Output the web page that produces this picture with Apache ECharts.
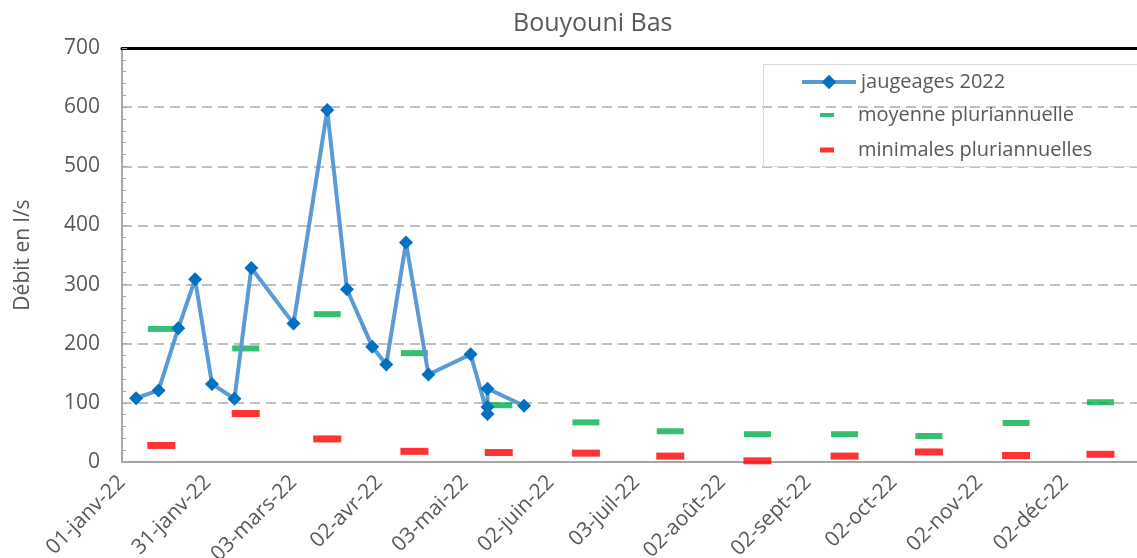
<!DOCTYPE html>
<html>
<head>
<meta charset="UTF-8">
<title>Bouyouni Bas</title>
<style>
	html, body { margin: 0; padding: 0; background: #fff; }
	#chart { width: 1137px; height: 558px; }
</style>
</head>
<body>
<div id="chart"></div>
<script src="https://cdn.jsdelivr.net/npm/echarts@6/dist/echarts.min.js"></script>
<script>
// jours comptés depuis le 01-janv-22
var tickLabels = ['01-janv-22', '31-janv-22', '03-mars-22', '02-avr-22', '03-mai-22', '02-juin-22',
	'03-juil-22', '02-août-22', '02-sept-22', '02-oct-22', '02-nov-22', '02-déc-22'];

// jaugeages 2022
var jaugeJours = [5, 13, 20, 26, 32, 40, 46, 61, 73, 80, 89, 94, 101, 109, 124, 130, 130, 130, 143];
var jaugeDebits = [108, 121, 226, 309, 132, 107, 328, 234, 595, 292, 195, 165, 371, 148, 182, 81, 93, 124, 95];

// valeurs pluriannuelles (milieu de mois)
var moisJours = [14, 44, 73, 104, 134, 165, 195, 226, 257, 287, 318, 348];
var moyenne = [225, 192, 250, 184, 96, 67, 52, 47, 47, 44, 66, 101];
var minimales = [28, 82, 39, 18, 16, 15, 10, 2, 10, 17, 11, 13];

function paires(xs, ys) {
	var out = [];
	for (var i = 0; i < xs.length; i++) {
		out.push([xs[i], ys[i]]);
	}
	return out;
}

var gris = '#595959';
var police = '"Open Sans", sans-serif';

var chart = echarts.init(document.getElementById('chart'));
var option = {
	animation: false,
	title: {
		text: 'Bouyouni Bas',
		left: 508,
		top: 6,
		textStyle: { fontFamily: police, fontSize: 25, fontWeight: 'normal', color: gris }
	},
	grid: { left: 122, right: 0, top: 48, bottom: 96, containLabel: false, outerBoundsMode: 'none' },
	legend: [
		{
			data: [{
				name: 'jaugeages 2022',
				lineStyle: { color: '#5b9bd5', width: 4 }
			}],
			left: 800, top: 70, padding: 0,
			itemWidth: 54, itemHeight: 18,
			textStyle: { fontFamily: police, fontSize: 20, color: gris, lineHeight: 24 }
		},
		{
			data: [{ name: 'moyenne pluriannuelle', icon: 'rect' }],
			left: 820, top: 103, padding: 0,
			itemWidth: 14, itemHeight: 4,
			textStyle: { fontFamily: police, fontSize: 20, color: gris, lineHeight: 24, padding: [0, 0, 0, 19] }
		},
		{
			data: [{ name: 'minimales pluriannuelles', icon: 'rect' }],
			left: 820, top: 138, padding: 0,
			itemWidth: 14, itemHeight: 5,
			textStyle: { fontFamily: police, fontSize: 20, color: gris, lineHeight: 24, padding: [0, 0, 0, 19] }
		}
	],
	graphic: [
		{
			type: 'rect',
			shape: { x: 763.5, y: 64.5, width: 390, height: 102 },
			style: { fill: null, stroke: '#d9d9d9', lineWidth: 1 },
			z: 5
		}
	],
	xAxis: [
		{
			type: 'value',
			min: 0,
			max: 361,
			interval: 30.5,
			axisLine: { show: true, lineStyle: { color: '#a6a6a6', width: 2 } },
			axisTick: { show: false },
			splitLine: { show: false },
			axisLabel: {
				rotate: 45,
				margin: 17,
				showMaxLabel: false,
				fontFamily: police,
				fontSize: 21,
				color: gris,
				formatter: function (v) {
					var i = Math.round(v / 30.5);
					return tickLabels[i] || '';
				}
			}
		},
		{
			type: 'value',
			position: 'top',
			min: 0,
			max: 361,
			axisLine: { show: true, lineStyle: { color: '#000', width: 3 } },
			axisTick: { show: false },
			axisLabel: { show: false },
			splitLine: { show: false }
		}
	],
	yAxis: {
		type: 'value',
		min: 0,
		max: 700,
		interval: 100,
		name: 'Débit en l/s',
		nameLocation: 'middle',
		nameGap: 88,
		nameTextStyle: { fontFamily: police, fontSize: 21, color: gris },
		axisLine: { show: true, lineStyle: { color: '#a6a6a6', width: 2 } },
		axisTick: { show: true, inside: true, length: 5, lineStyle: { color: '#a6a6a6' } },
		minorTick: { show: true, splitNumber: 5, length: 4, lineStyle: { color: '#a6a6a6' } },
		axisLabel: { margin: 22, fontFamily: police, fontSize: 21, color: gris },
		splitLine: { show: true, lineStyle: { color: '#bfbfbf', width: 2, type: [10, 6] } }
	},
	series: [
		{
			name: 'jaugeages 2022',
			type: 'line',
			data: paires(jaugeJours, jaugeDebits),
			symbol: 'diamond',
			symbolSize: 14,
			itemStyle: { color: '#0070c0' },
			lineStyle: { color: '#5b9bd5', width: 4 }
		},
		{
			name: 'moyenne pluriannuelle',
			type: 'scatter',
			data: paires(moisJours, moyenne),
			symbol: 'rect',
			symbolSize: [27, 6],
			itemStyle: { color: '#00b050' }
		},
		{
			name: 'minimales pluriannuelles',
			type: 'scatter',
			data: paires(moisJours, minimales),
			symbol: 'rect',
			symbolSize: [28, 7],
			clip: false,
			itemStyle: { color: '#ff0000' }
		}
	]
};
chart.setOption(option);
</script>
</body>
</html>
